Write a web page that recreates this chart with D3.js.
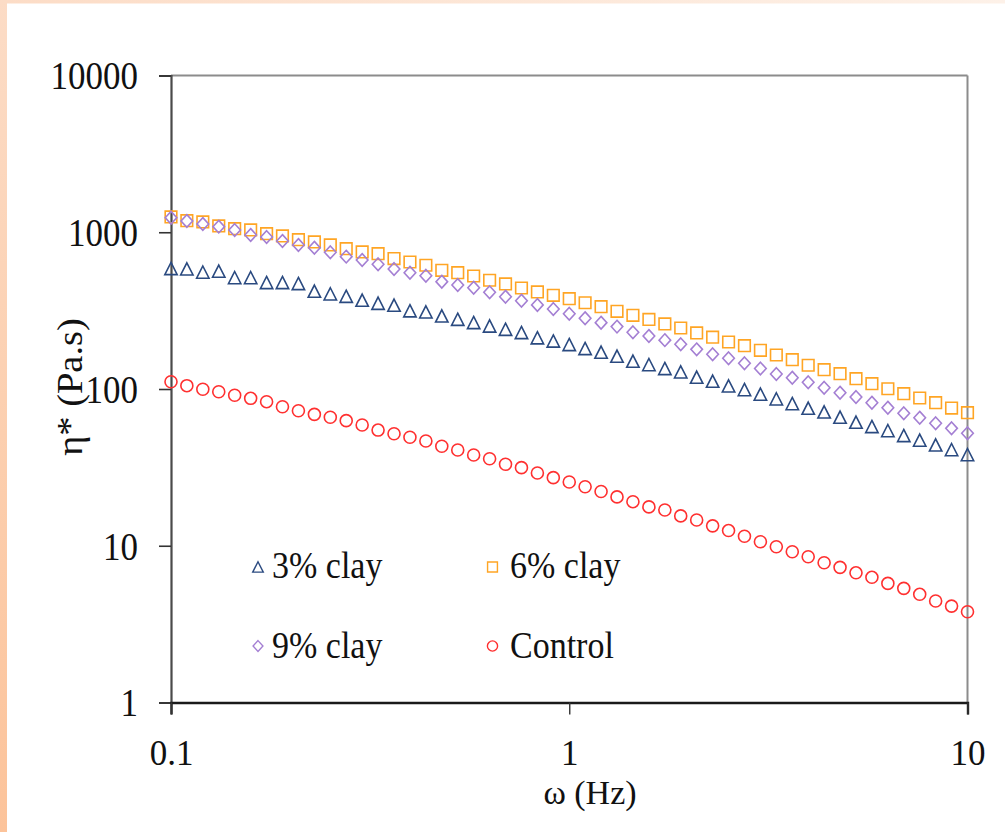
<!DOCTYPE html>
<html>
<head>
<meta charset="utf-8">
<script src="https://cdn.jsdelivr.net/npm/d3@7/dist/d3.min.js"></script>
<style>
  html, body { margin: 0; padding: 0; background: #ffffff; }
  svg { display: block; }
  text { font-family: "Liberation Serif", "Times New Roman", serif; fill: #111; }
</style>
</head>
<body>
<svg id="chart" width="1005" height="832"></svg>
<script>
// ---- data ----
const freq = [0.1, 0.1096, 0.1202, 0.1318, 0.1445, 0.1585, 0.1738, 0.1905, 0.2089, 0.2291,
  0.2512, 0.2754, 0.3020, 0.3311, 0.3631, 0.3981, 0.4365, 0.4786, 0.5248, 0.5754,
  0.6310, 0.6918, 0.7586, 0.8318, 0.9120, 1.0, 1.096, 1.202, 1.318, 1.445,
  1.585, 1.738, 1.905, 2.089, 2.291, 2.512, 2.754, 3.020, 3.311, 3.631,
  3.981, 4.365, 4.786, 5.248, 5.754, 6.310, 6.918, 7.586, 8.318, 9.120, 10];

const clay3 = [586, 583, 556, 564, 513, 513, 477, 477, 470, 420,
  404, 390, 368, 352, 342, 315, 310, 292, 278, 265,
  252, 240, 229, 212, 202, 192, 181, 171.5, 161.7, 150.2,
  142.9, 134.8, 128.4, 118.8, 112.0, 104.5, 99.0, 92.6, 86.4, 80.6,
  75.3, 71.3, 66.0, 61.3, 57.5, 54.2, 50.4, 47.1, 43.9, 41.0, 38.1];

const clay6 = [1252, 1186, 1163, 1097, 1054, 1034, 980, 947, 897, 867,
  830, 786, 749, 730, 679, 646, 616, 572, 552, 526,
  494, 468, 441, 416, 396, 377, 355, 335, 313, 295,
  278, 260, 245, 228, 214, 199.5, 189, 176.6, 164.8, 153.8,
  141.7, 132.8, 125.2, 116.3, 108.1, 100.4, 93.3, 87.6, 81.8, 75.6, 70.6];

const clay9 = [1239, 1181, 1130, 1086, 1034, 961, 933, 880, 830, 797,
  745, 699, 666, 625, 583, 552, 528, 484, 461, 443,
  414, 388, 366, 344, 324, 302, 283, 265, 250, 230,
  218, 205, 193, 179, 166.5, 157, 145.9, 135.1, 124.6, 118.1,
  110.4, 101.9, 94.7, 88.9, 81.8, 76.0, 70.0, 65.6, 60.4, 56.1, 52.2];

const control = [111.3, 105.0, 99.6, 96.1, 91.2, 87.2, 83.0, 77.1, 72.7, 68.9,
  66.0, 62.8, 58.9, 54.7, 51.8, 49.2, 46.6, 43.1, 40.8, 37.9,
  35.9, 33.1, 31.5, 29.1, 27.2, 25.5, 23.8, 22.2, 20.5, 19.1,
  17.7, 16.9, 15.5, 14.6, 13.4, 12.5, 11.5, 10.6, 9.85, 9.16,
  8.51, 7.79, 7.28, 6.72, 6.29, 5.75, 5.35, 4.90, 4.44, 4.12, 3.79];

const seriesNames = ["3% clay", "6% clay", "9% clay", "Control"];
const xTicks = [0.1, 1, 10];
const xTickLabels = ["0.1", "1", "10"];
const yTicks = [1, 10, 100, 1000, 10000];
const yTickLabels = ["1", "10", "100", "1000", "10000"];

// ---- layout ----
const svg = d3.select("#chart");
const W = 1005, H = 832;
const plot = { left: 171, right: 967.5, top: 75.5, bottom: 702.5 };

// background frame
const defs = svg.append("defs");
const gL = defs.append("linearGradient").attr("id", "gLeft")
  .attr("x1", 0).attr("y1", 0).attr("x2", 0).attr("y2", 1);
gL.append("stop").attr("offset", "0%").attr("stop-color", "#fcdcc6");
gL.append("stop").attr("offset", "100%").attr("stop-color", "#fcc39a");
const gT = defs.append("linearGradient").attr("id", "gTop")
  .attr("x1", 0).attr("y1", 0).attr("x2", 1).attr("y2", 0);
gT.append("stop").attr("offset", "0%").attr("stop-color", "#fcdcc6");
gT.append("stop").attr("offset", "100%").attr("stop-color", "#fdf1e8");

svg.append("rect").attr("x", 0).attr("y", 0).attr("width", W).attr("height", H).attr("fill", "#ffffff");
svg.append("rect").attr("x", 0).attr("y", 0).attr("width", W).attr("height", 3.5).attr("fill", "url(#gTop)");
svg.append("rect").attr("x", 0).attr("y", 0).attr("width", 7).attr("height", H).attr("fill", "url(#gLeft)");

const x = d3.scaleLog().domain([0.1, 10]).range([plot.left, plot.right]);
const y = d3.scaleLog().domain([1, 10000]).range([plot.bottom, plot.top]);

// plot frame: top + right border (light gray)
svg.append("line").attr("x1", plot.left).attr("x2", plot.right)
  .attr("y1", plot.top).attr("y2", plot.top)
  .attr("stroke", "#8c8c8c").attr("stroke-width", 2);
svg.append("line").attr("x1", plot.right).attr("x2", plot.right)
  .attr("y1", plot.top).attr("y2", plot.bottom)
  .attr("stroke", "#8c8c8c").attr("stroke-width", 2);

const stretch = "scale(1,1.13)";

// y axis
const yAxis = d3.axisLeft(y).tickValues(yTicks)
  .tickFormat((d, i) => yTickLabels[i]).tickSize(12).tickPadding(20);
const gy = svg.append("g").attr("transform", `translate(${plot.left},0)`).call(yAxis);
gy.select(".domain").attr("stroke", "#4a4a4a").attr("stroke-width", 2.2);
gy.selectAll(".tick line").attr("stroke", "#333").attr("stroke-width", 1.6);
gy.selectAll(".tick text")
  .attr("font-family", "Liberation Serif, Times New Roman, serif")
  .attr("font-size", 35).attr("fill", "#111")
  .attr("dy", "0.34em")
  .attr("x", -33)
  .attr("transform", stretch);

// x axis
const xAxis = d3.axisBottom(x).tickValues(xTicks)
  .tickFormat((d, i) => xTickLabels[i]).tickSize(12).tickPadding(28);
const gx = svg.append("g").attr("transform", `translate(0,${plot.bottom})`).call(xAxis);
gx.select(".domain").attr("stroke", "#1a1a1a").attr("stroke-width", 2.4);
gx.selectAll(".tick line").attr("stroke", "#333").attr("stroke-width", 1.4);
gx.selectAll(".tick text")
  .attr("font-family", "Liberation Serif, Times New Roman, serif")
  .attr("font-size", 35).attr("fill", "#111")
  .attr("dy", null)
  .attr("y", 62.5);

// axis titles
svg.append("text")
  .attr("transform", "translate(590,804)")
  .attr("text-anchor", "middle")
  .attr("font-size", 34)
  .text("ω (Hz)");
svg.append("text")
  .attr("transform", "translate(82,387) rotate(-90) scale(1.1,1)")
  .attr("text-anchor", "middle")
  .attr("font-size", 35)
  .text("η* (Pa.s)");

// markers
const shapes = {
  tri: s => `M0,${-6.2 * s}L${6.2 * s},${6 * s}L${-6.2 * s},${6 * s}Z`,
  sq: s => `M${-5.8 * s},${-5.8 * s}H${5.8 * s}V${5.8 * s}H${-5.8 * s}Z`,
  dia: s => `M0,${-6.3 * s}L${5.8 * s},0L0,${6.3 * s}L${-5.8 * s},0Z`,
  circ: s => d3.arc()({ innerRadius: 0, outerRadius: 6 * s, startAngle: 0, endAngle: 2 * Math.PI })
};

const series = [
  { name: seriesNames[3], values: control, shape: "circ", color: "#ff3030" },
  { name: seriesNames[0], values: clay3, shape: "tri", color: "#2a4a80" },
  { name: seriesNames[1], values: clay6, shape: "sq", color: "#ffa524" },
  { name: seriesNames[2], values: clay9, shape: "dia", color: "#a47fd3" }
];

series.forEach(s => {
  svg.append("g").selectAll("path")
    .data(s.values.map((v, i) => ({ f: freq[i], v })))
    .join("path")
    .attr("transform", d => `translate(${x(d.f)},${y(d.v)})`)
    .attr("d", shapes[s.shape](1))
    .attr("fill", "none")
    .attr("stroke", s.color)
    .attr("stroke-width", 1.6);
});

// legend
const legendItems = [
  { name: seriesNames[0], shape: "tri", color: "#2a4a80", mx: 258, my: 567, tx: 272, ty: 578 },
  { name: seriesNames[1], shape: "sq", color: "#ffa524", mx: 492.5, my: 567, tx: 510, ty: 578 },
  { name: seriesNames[2], shape: "dia", color: "#a47fd3", mx: 258, my: 646, tx: 272, ty: 658 },
  { name: seriesNames[3], shape: "circ", color: "#ff3030", mx: 492.5, my: 646, tx: 510, ty: 658 }
];
const lg = svg.append("g");
legendItems.forEach(it => {
  lg.append("path")
    .attr("transform", `translate(${it.mx},${it.my})`)
    .attr("d", shapes[it.shape](0.85))
    .attr("fill", "none").attr("stroke", it.color).attr("stroke-width", 1.4);
  lg.append("text")
    .attr("transform", `translate(${it.tx},${it.ty}) scale(1,1.1)`)
    .attr("font-size", 34)
    .text(it.name);
});
</script>
</body>
</html>
